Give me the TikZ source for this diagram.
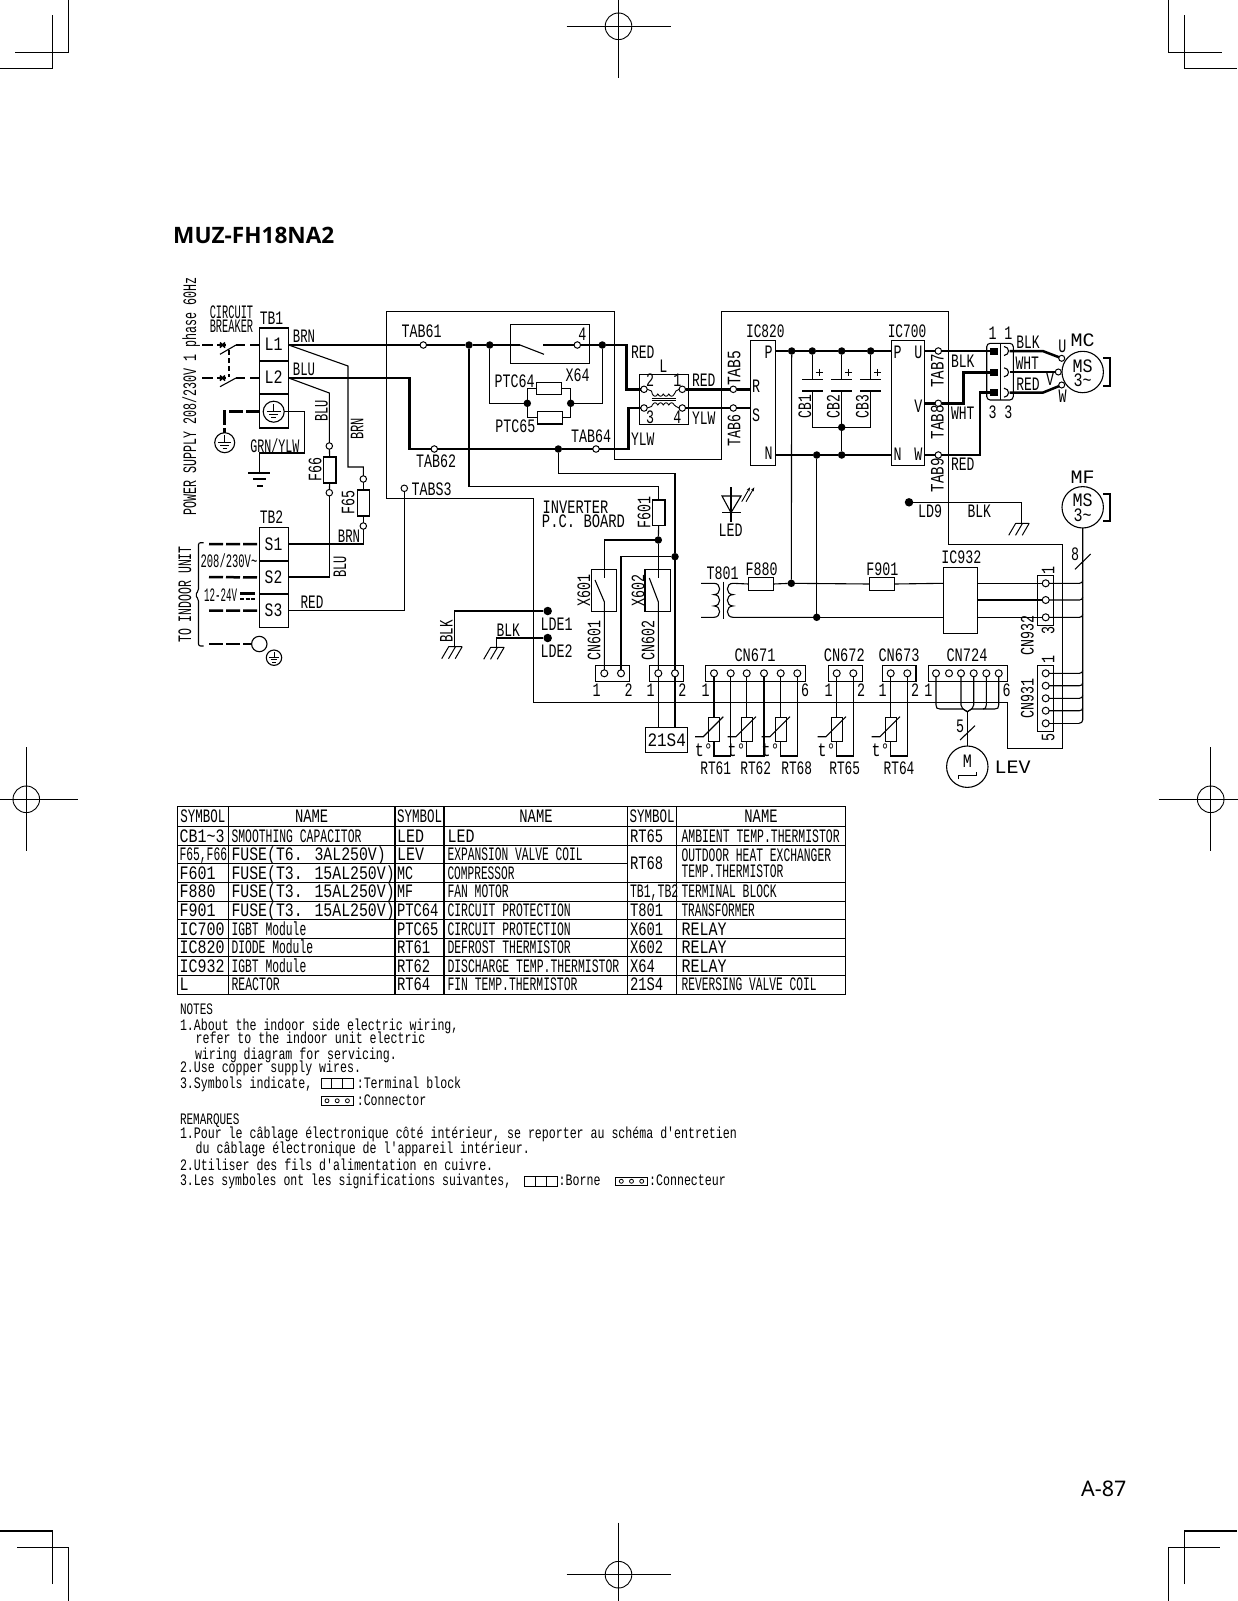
\documentclass[tikz,border=0pt]{standalone}
\usepackage{fontspec}
\usepackage{graphicx}
\usetikzlibrary{arrows.meta}
\newfontfamily\cadfont{Liberation Mono}
\newfontfamily\pagefont{Noto Sans}
\newfontfamily\titlefont{Open Sans}
\newcounter{lbl}
\tikzset{
 thin wire/.style={line width=1.1bp},
 thick wire/.style={line width=2.5bp},
 dash wire/.style={line width=2.5bp,dash pattern=on 14bp off 3bp},
 cadtext/.style={font=\fontsize{19bp}{19bp}\selectfont\cadfont,inner sep=0pt,outer sep=0pt,text height=12bp,text depth=0pt},
 notetext/.style={font=\fontsize{16bp}{16bp}\selectfont\cadfont,inner sep=0pt,outer sep=0pt,text height=10.5bp,text depth=0pt,anchor=west},
 boxn/.style={draw,line width=1.1bp,inner sep=0pt,outer sep=0pt},
 term/.style={circle,draw,line width=1bp,fill=white,minimum size=7bp,inner sep=0pt,outer sep=0pt},
 dotn/.style={circle,fill=black,minimum size=7.5bp,inner sep=0pt,outer sep=0pt},
 bigdot/.style={circle,fill=black,minimum size=8.5bp,inner sep=0pt,outer sep=0pt},
 motor/.style={circle,draw,line width=1.1bp,minimum size=41.4bp,inner sep=0pt,outer sep=0pt},
 earthc/.style={circle,draw,line width=1.1bp,inner sep=0pt,outer sep=0pt},
 pinb/.style={fill=black,minimum width=8.3bp,minimum height=7bp,inner sep=0pt,outer sep=0pt},
}
% label: [opts]{x}{y}{advance}{text}
\newcommand\lb[5][]{\pgfmathsetmacro\sx{#4/11.4}\stepcounter{lbl}\node[cadtext,#1] (lbl\thelbl) at (#2,#3) {\scalebox{\sx}[1]{#5}};}
\newcommand\nt[4]{\pgfmathsetmacro\sx{#3/9.6}\stepcounter{lbl}\node[notetext] (lbl\thelbl) at (#1,#2) {\scalebox{\sx}[1]{#4}};}
% box by corners
\newcommand\bx[5]{\pgfmathsetmacro\bw{#4-#2}\pgfmathsetmacro\bh{#5-#3}\pgfmathsetmacro\bcx{(#2+#4)/2}\pgfmathsetmacro\bcy{(#3+#5)/2}\node[boxn,minimum width=\bw bp,minimum height=\bh bp] (#1) at (\bcx,\bcy) {};}
\newcommand\tl{\char"7E\relax}
% earth symbol
\newcommand\earthsym[3]{\draw[line width=1bp] (#1,#2-#3*.75) -- (#1,#2) (#1-#3*.65,#2) -- (#1+#3*.65,#2) (#1-#3*.45,#2+#3*.28) -- (#1+#3*.45,#2+#3*.28) (#1-#3*.22,#2+#3*.56) -- (#1+#3*.22,#2+#3*.56);}
% hatch ground
\newcommand\hatchg[2]{\draw[line width=1bp] (#1-6,#2) -- (#1+7.5,#2) (#1-6,#2) -- ++(-7,12) (#1+.8,#2) -- ++(-7,12) (#1+7.5,#2) -- ++(-7,12);}
% thermistor
\newcommand\therm[3]{%
 \node[term] (#1a) at (#2,673.3) {};
 \node[term] (#1b) at (#3,673.3) {};
 \pgfmathsetmacro\tcl{#2}
 \node[boxn,minimum width=11bp,minimum height=24bp] (#1r) at (#2,729.3) {};
 \coordinate (#1c) at (#2,756);
 \draw[thin wire] (#1a) -- (#1r.north) (#1r.south) -- (#1c) -| (#1b);
 \draw[thin wire] (#2-19,736.7) -- (#2-10.7,736.7) -- (#2+9.3,716.7);
 \pgfmathsetmacro\tcx{#2-10.2}
 \lb{\tcx}{750.5}{9}{t°}
}
\begin{document}
\begin{tikzpicture}[x=1bp,y=-1bp,line cap=butt,line join=miter]
\useasboundingbox (0,0) rectangle (1237,1601);
\fill[white] (0,0) rectangle (1237,1601);
% ---- crop marks
\draw[thin wire]
 (68.3,0) -- (68.3,52.3) -- (15.3,52.3) (52.3,15.3) -- (52.3,68.3) -- (0,68.3)
 (1168.7,0) -- (1168.7,52.3) -- (1221.7,52.3) (1184.7,15.3) -- (1184.7,68.3) -- (1237,68.3)
 (1184.3,1584) -- (1184.3,1531) -- (1237,1531) (1168.3,1601) -- (1168.3,1547.3) -- (1220,1547.3)
 (52.7,1584) -- (52.7,1531) -- (0,1531) (68.7,1601) -- (68.7,1547.3) -- (17,1547.3);
\foreach \cx/\cy in {26.3/799.3,1210.7/799.3,618.5/26.3,618.5/1574.7}{
 \draw[line width=.9bp] (\cx,\cy) circle[radius=13.3bp];
 \draw[thin wire] (\cx,\cy-52) -- (\cx,\cy+52) (\cx-52,\cy) -- (\cx+52,\cy);
}
% ---- page text
\node[font=\fontsize{22.6bp}{23bp}\selectfont\titlefont\bfseries,inner sep=0pt,anchor=west] (title) at (173,235) {MUZ-FH18NA2};
\node[font=\fontsize{21.5bp}{22bp}\selectfont\pagefont,inner sep=0pt,anchor=west] (pageno) at (1081,1488.7) {A-87};
% ---- left labels
\lb[rotate=90]{190}{396}{7}{POWER SUPPLY 208/230V 1 phase 60Hz}
\lb{231.5}{312.5}{6.2}{CIRCUIT}
\lb{231.5}{326.5}{6.2}{BREAKER}
\lb{271.5}{318.5}{7.8}{TB1}
\lb{271.5}{517.5}{7.8}{TB2}
\lb{304}{336.5}{7.4}{BRN}
\lb{304}{369}{7.4}{BLU}
\lb{275}{446}{7}{GRN/YLW}
\lb[rotate=90]{321.7}{410.7}{7.2}{BLU}
\lb[rotate=90]{357.3}{429}{7.2}{BRN}
\lb[rotate=90]{315.3}{469}{8}{F66}
\lb[rotate=90]{348.3}{502}{8}{F65}
\lb{349}{536}{7.4}{BRN}
\lb[rotate=90]{340}{566.7}{7.2}{BLU}
\lb{312}{602.5}{7.6}{RED}
\lb[rotate=90]{185}{594.5}{6.9}{TO INDOOR UNIT}
\lb{229}{561.5}{6.3}{208/230V\tl}
\lb{220.5}{595}{5.5}{12-24V}
\lb{273.5}{344.5}{9}{L1}
\lb{273.5}{377.5}{9}{L2}
\lb{273.5}{544.3}{8.8}{S1}
\lb{273.5}{577.3}{8.8}{S2}
\lb{273.5}{610.7}{8.8}{S3}
% ---- inverter outline
\draw[thin wire] (386.7,311.7) -- (614.3,311.7) -- (614.3,459.3) -- (721.7,459.3) -- (721.7,311.7) -- (948.3,311.7) -- (948.3,544.3) -- (1062.7,544.3) -- (1062.7,748.3) -- (1007.7,748.3) -- (1007.7,702.3) -- (533.3,702.3) -- (533.3,498.3) -- (386.7,498.3) -- cycle;
% ---- terminal blocks
\bx{tbA}{259.5}{328}{288.7}{361}
\bx{tbB}{259.5}{361}{288.7}{394}
\bx{tbE}{259.5}{394}{288.7}{428}
\bx{tbS1}{259.5}{527.3}{288.7}{561}
\bx{tbS2}{259.5}{561}{288.7}{594}
\bx{tbS3}{259.5}{594}{288.7}{627.3}
\coordinate (l1) at (288.7,345);
\coordinate (l2) at (288.7,378);
\coordinate (s1w) at (288.7,544);
\coordinate (s2w) at (288.7,577);
\coordinate (s3w) at (288.7,610.7);
% earth
\node[earthc,minimum size=21bp] (e1) at (273.7,411.7) {};
\earthsym{273.7}{411.7}{10.5}
\node[earthc,minimum size=20bp] (e2) at (224.7,442.7) {};
\earthsym{224.7}{442.7}{10}
\node[earthc,minimum size=15.4bp] (e3) at (259.3,644) {};
\node[earthc,minimum size=15.4bp] (e4) at (274,657.7) {};
\earthsym{274}{657.7}{7.7}
\draw[thin wire] (e1.east) -- (304.7,411.7) -- (304.7,453) -- (259.5,453) -- (259.5,473);
\draw[thin wire] (248,473) -- (270,473) (253,479) -- (266,479) (257,486) -- (263,486);
\draw[dash wire] (259.5,411.7) -- (224.7,411.7) -- (e2);
% supply dashes and breaker
\draw[thick wire] (202,345) -- (213,345) (217,345) -- (226,345) (236,345) -- (245,345) (250,345) -- (259.5,345);
\draw[thick wire] (202,378) -- (213,378) (217,378) -- (226,378) (236,378) -- (245,378) (250,378) -- (259.5,378);
\draw[line width=1.6bp] (220,342.5) -- (225,347.5) (225,342.5) -- (220,347.5) (220,375.5) -- (225,380.5) (225,375.5) -- (220,380.5);
\draw[thin wire] (220,354.3) -- (236,345) (220,386.7) -- (236,378);
\draw[thin wire,dash pattern=on 5bp off 3bp] (229,350) -- (229,377);
\draw[dash wire] (209,544) -- (tbS1.west);
\draw[dash wire] (209,577) -- (tbS2.west);
\draw[dash wire] (209,610.7) -- (tbS3.west);
\draw[dash wire] (209,644) -- (e3);
\draw[thin wire,rounded corners=2bp] (203.5,542.7) -- (198.5,542.7) -- (198.5,591) -- (195,595) -- (198.5,599) -- (198.5,646) -- (203.5,646);
\draw[line width=3bp] (240,593.5) -- (255,593.5);
\draw[line width=2.4bp,dash pattern=on 4bp off 1.6bp] (240,599) -- (255,599);
% ---- fuses F65, F66
\node[term,minimum size=6.5bp] (f66t) at (329.3,446) {};
\bx{fu66}{323.3}{457}{336}{483}
\node[term,minimum size=6.5bp] (f66b) at (329.3,492.7) {};
\node[term,minimum size=6.5bp] (f65t) at (363.3,479) {};
\bx{fu65}{357.3}{490}{369.3}{516}
\node[term,minimum size=6.5bp] (f65b) at (363.3,526) {};
\draw[thin wire] (l1) -- (348,366) -- (348,467) -| (f65t);
\draw[thin wire] (f65t) -- (fu65.north) (fu65.south) -- (f65b);
\draw[thin wire] (f65b) |- (s1w);
\draw[thin wire] (l2) -- (329.3,393) -- (f66t);
\draw[thin wire] (f66t) -- (fu66.north) (fu66.south) -- (f66b);
\draw[thin wire] (f66b) |- (s2w);
% ---- terminals, dots on PCB
\node[term,minimum size=6.5bp] (tab61) at (423.3,345) {};
\node[term,minimum size=6.5bp] (tab62) at (434.3,449) {};
\node[term,minimum size=6.5bp] (tab64) at (596,449) {};
\node[term,minimum size=6.5bp] (tabs3) at (404.3,488.3) {};
\node[term,minimum size=6.5bp] (x64c) at (577.3,345) {};
\node[dotn] (d1) at (469,345) {};
\node[dotn] (d2) at (489.7,345) {};
\node[dotn] (d3) at (602.3,345) {};
\node[dotn] (d4) at (527.3,403.3) {};
\node[dotn] (d5) at (570.7,403.3) {};
\node[dotn] (d6) at (558.3,449) {};
\node[dotn] (d7) at (658.3,540) {};
\node[dotn] (d8) at (675,556.7) {};
\coordinate (x64a) at (520,345);
\coordinate (x64b) at (543.3,345);
\bx{x64}{510.7}{324.3}{589.3}{363.3}
\bx{ptc64}{536.7}{382.3}{561.7}{394.3}
\bx{ptc65}{537.7}{411.7}{562.7}{424}
% reactor
\bx{lbox}{639.3}{374.7}{688.3}{424.3}
\node[term,minimum size=6.5bp] (lt2) at (644,389.3) {};
\node[term,minimum size=6.5bp] (lt1) at (682.3,389.3) {};
\node[term,minimum size=6.5bp] (lb3) at (644,408) {};
\node[term,minimum size=6.5bp] (lb4) at (682.3,408) {};
\draw[line width=.9bp] (lt2.east) -- (651.5,391) -- (652.3,394)
 .. controls +(1.5,3) and +(-1.5,3) .. ++(5.5,0) .. controls +(1.5,3) and +(-1.5,3) .. ++(5.5,0)
 .. controls +(1.5,3) and +(-1.5,3) .. ++(5.5,0) .. controls +(1.5,3) and +(-1.5,3) .. ++(5.5,0) -- (676,391) -- (lt1.west);
\draw[line width=.9bp] (lb3.east) -- (651.5,406.5) -- (652.3,405)
 .. controls +(1.5,-3) and +(-1.5,-3) .. ++(5.5,0) .. controls +(1.5,-3) and +(-1.5,-3) .. ++(5.5,0)
 .. controls +(1.5,-3) and +(-1.5,-3) .. ++(5.5,0) .. controls +(1.5,-3) and +(-1.5,-3) .. ++(5.5,0) -- (676,406.5) -- (lb4.west);
\draw[line width=1bp] (651.5,398) -- (676,398) (651.5,400.5) -- (676,400.5);
% main thick wires
\draw[thick wire] (l1) -- (tab61);
\draw[thick wire] (tab61) -- (d1) -- (d2) -- (x64a);
\draw[thin wire] (x64a) -- (544,354.3);
\draw[thick wire] (x64b) -- (x64c);
\draw[thick wire] (x64c) -- (d3);
\draw[thick wire] (d3) -- (626.7,345) |- (lt2);
\draw[thick wire] (l2) -- (409.3,378) |- (tab62);
\draw[thick wire] (tab62) -- (d6) -- (tab64);
\draw[thick wire] (tab64) -- (628.3,449) |- (lb3);
\draw[thin wire] (d2) |- (d4);
\draw[thin wire] (d3) |- (d5);
\draw[thin wire] (d4) |- (ptc64.west);
\draw[thin wire] (d4) |- (ptc65.west);
\draw[thin wire] (d5) |- (ptc64.east);
\draw[thin wire] (d5) |- (ptc65.east);
% board wires
\bx{fu601}{652.3}{500}{665}{525.7}
\bx{bx601}{591.7}{569.3}{616.7}{611.7}
\bx{bx602}{645}{569.3}{670.7}{611.7}
\bx{cn601}{595.7}{665.7}{629.3}{681.7}
\bx{cn602}{649.3}{665.7}{683.3}{681.7}
\bx{s21}{645.7}{727.3}{687.7}{752.3}
\node[term] (c601a) at (604.3,673.3) {};
\node[term] (c601b) at (621,673.3) {};
\node[term] (c602a) at (658.3,673.3) {};
\node[term] (c602b) at (675,673.3) {};
\coordinate (k1t) at (604.3,578);
\coordinate (k1b) at (604.3,601.7);
\coordinate (k2t) at (658.3,578);
\coordinate (k2b) at (658.3,601.7);
\draw[thin wire] (d1) -- (469,486.7) -| (fu601.north);
\draw[thin wire] (fu601.south) -- (d7);
\draw[thin wire] (d7) -| (k1t);
\draw[thin wire] (595,580) -- (k1b) -- (c601a);
\draw[thin wire] (d7) -- (k2t);
\draw[thin wire] (649.3,578) -- (k2b) -- (c602a);
\draw[thin wire] (c602a) -- (c602a |- s21.north);
\draw[thin wire] (d6) -- (558.3,473.3) -| (d8);
\draw[thin wire] (d8) -- (c602b);
\draw[thin wire] (c602b) -- (c602b |- s21.north);
\draw[thin wire] (d8) -| (c601b);
\draw[thin wire] (tabs3) |- (s3w);
% LDE
\node[bigdot] (lde1) at (547.7,611) {};
\node[bigdot] (lde2) at (547.7,638) {};
\coordinate (gnd1) at (454.7,646.7);
\coordinate (gnd2) at (496.7,647.3);
\draw[thin wire] (lde1) -| (gnd1);
\draw[thin wire] (lde2) -| (gnd2);
\hatchg{454.7}{646.7}
\hatchg{496.7}{647.3}
% ---- power stage
\bx{ic820}{750.7}{340.7}{775.7}{465.3}
\bx{ic700}{891.7}{340.7}{924.3}{465.3}
\node[term,minimum size=6.5bp] (tab5) at (733.3,389.3) {};
\node[term,minimum size=6.5bp] (tab6) at (733.3,408) {};
\node[term,minimum size=6.5bp] (tab7) at (938.3,351) {};
\node[term,minimum size=6.5bp] (tab8) at (938.3,403.3) {};
\node[term,minimum size=6.5bp] (tab9) at (938.3,455) {};
\coordinate (ric) at (750.7,389.3);
\coordinate (sic) at (750.7,408);
\draw[thick wire] (lt1) -- (tab5);
\draw[thick wire] (tab5) -- (ric);
\draw[thick wire] (lb4) -- (tab6);
\draw[thick wire] (tab6) -- (sic);
\node[dotn] (p1) at (791.7,351) {};
\node[dotn] (p2) at (812.3,351) {};
\node[dotn] (p3) at (841.7,351) {};
\node[dotn] (p4) at (870.7,351) {};
\node[dotn] (n1) at (816.7,455) {};
\node[dotn] (n2) at (841.7,455) {};
\node[dotn] (cb0) at (841.7,427.3) {};
\coordinate (pa) at (775.7,351);
\coordinate (pb) at (891.7,351);
\coordinate (na) at (775.7,455);
\coordinate (nb) at (891.7,455);
\draw[thick wire] (pa) -- (p1) -- (p2) -- (p3) -- (p4) -- (pb);
\draw[thick wire] (na) -- (n1) -- (n2) -- (nb);
\draw[thin wire] (cb0) -- (n2);
% capacitors
\foreach \cn/\pn/\cc/\lw in {1/p2/812.3/10.3,2/p3/841.7/10.3,3/p4/870.7/10.3}{
 \coordinate (cap\cn t) at (\cc,379.3);
 \coordinate (cap\cn b) at (\cc,391);
 \draw[thin wire] (\pn) -- (cap\cn t);
 \draw[line width=1.2bp] (\cc-\lw,379.3) -- (\cc+\lw,379.3) (\cc-\lw,391) -- (\cc+\lw,391);
 \draw[line width=1bp] (\cc+3.2,372.3) -- (\cc+10.2,372.3) (\cc+6.7,368.8) -- (\cc+6.7,375.8);
}
\draw[thin wire] (cap1b) -- (812.3,427.3) -- (cb0);
\draw[thin wire] (cap3b) -- (870.7,427.3) -- (cb0);
\draw[thin wire] (cap2b) -- (cb0);
% connector
\draw[line width=1.1bp,rounded corners=3.5bp] (986.7,343.3) rectangle (1013.3,400);
\draw[line width=1.1bp] (1000.7,343.3) -- (1000.7,400);
\node[pinb] (pin1) at (994.2,351) {};
\node[pinb] (pin2) at (994.2,372.3) {};
\node[pinb] (pin3) at (994.2,392.7) {};
\foreach \yy in {351,372.3,392.7}{
 \draw[line width=1.1bp] (1004,\yy-4.5) .. controls (1010,\yy-4) and (1010,\yy+4) .. (1004,\yy+4.5);
}
\draw[thick wire] (924.3,351) -- (tab7);
\draw[thick wire] (tab7) -- (pin1);
\draw[thick wire] (924.3,403.3) -- (tab8);
\draw[thick wire] (tab8) -- (963.3,403.3) |- (pin2);
\draw[thick wire] (924.3,455) -- (tab9);
\draw[thick wire] (tab9) -- (980,455) |- (pin3);
% motors
\node[motor] (mc) at (1082.7,372) {};
\node[motor] (mf) at (1082.7,507.3) {};
\node[motor] (lev) at (967.3,766.7) {};
\node[term,minimum size=6bp] (mu) at (1061.7,358.3) {};
\node[term,minimum size=6bp] (mv) at (1058.3,372) {};
\node[term,minimum size=6bp] (mw) at (1061.7,385) {};
\draw[thick wire] (1009.5,351) -- (1042.7,351) -- (mu);
\draw[thick wire] (1009.5,372) -- (mv);
\draw[thick wire] (1009.5,392.7) -- (1042.7,392.7) -- (mw);
\draw[line width=1.8bp] (1103.3,358.3) -- (1110,358.3) -- (1110,386) -- (1103.3,386);
\draw[line width=1.8bp] (1103.3,494) -- (1110,494) -- (1110,520.7) -- (1103.3,520.7);
% LD9, LED
\node[bigdot] (ld9) at (909,502.3) {};
\coordinate (gnd3) at (1021.7,523.3);
\draw[thin wire] (ld9) -| (gnd3);
\hatchg{1021.7}{523.3}
\draw[thin wire] (722,496) -- (741,496) -- (731,512.7) -- cycle;
\draw[thin wire] (731,487.3) -- (731,521.7) (722,512.7) -- (741,512.7);
\draw[line width=.9bp,-{Stealth[length=4bp,width=3bp]}] (741.7,501.7) -- (750,487.3);
\draw[line width=.9bp,-{Stealth[length=4bp,width=3bp]}] (746,501.7) -- (754.3,487.3);
% transformer line
\bx{fu880}{748.3}{577.3}{773.3}{590.7}
\bx{fu901}{869.3}{577.3}{894.7}{590.7}
\bx{ic932}{943.3}{567.3}{977.7}{633.3}
\node[dotn] (n3) at (791.3,583.3) {};
\node[dotn] (n4) at (816.7,617.3) {};
\draw[thin wire] (p1) -- (n3);
\draw[thin wire] (n1) -- (n4);
\draw[thin wire] (701,583.3) -- (714,583.3)
 .. controls +(7.5,0) and +(7.5,0) .. ++(0,11.33)
 .. controls +(7.5,0) and +(7.5,0) .. ++(0,11.33)
 .. controls +(7.5,0) and +(7.5,0) .. ++(0,11.34) -- (701,617.3);
\draw[thin wire] (723.3,581.5) -- (723.3,619);
\draw[thin wire] (fu880.west) -- (733,583.3)
 .. controls +(-7.5,0) and +(-7.5,0) .. ++(0,11.33)
 .. controls +(-7.5,0) and +(-7.5,0) .. ++(0,11.33)
 .. controls +(-7.5,0) and +(-7.5,0) .. ++(0,11.34) -- (n4);
\draw[thin wire] (fu880.east) -- (n3);
\draw[thin wire] (n3) -- (fu901.west);
\draw[thin wire] (fu901.east) -- (943.3,583.3);
\draw[thin wire] (n4) -- (943.3,617.3);
% CN932, CN931 and the motor bus
\bx{cn932}{1037.3}{575.7}{1053.7}{625.7}
\bx{cn931}{1037.3}{665.3}{1053.7}{731.3}
\draw[thin wire] (mf) -- (1082.7,720) .. controls (1082.7,722) and (1081,723.3) .. (1079,723.3);
\foreach \nm/\yy in {a/583.3,b/600,c/617.3}{
 \node[term] (u\nm) at (1045.7,\yy) {};
 \coordinate (uic\nm) at (977.7,\yy);
 \draw[thin wire] (uic\nm) -- (u\nm);
 \draw[thin wire] (u\nm) -- (1079.5,\yy) .. controls (1081.5,\yy) and (1082.7,\yy-1.2) .. (1082.7,\yy-3);
}
\foreach \nm/\yy in {a/673.3,b/685.7,c/698.3,d/710.7,e/723.3}{
 \node[term] (v\nm) at (1045.7,\yy) {};
}
\foreach \nm/\yy in {a/673.3,b/685.7,c/698.3,d/710.7}{
 \draw[thin wire] (v\nm) -- (1079.5,\yy) .. controls (1081.5,\yy) and (1082.7,\yy-1.2) .. (1082.7,\yy-3);
}
\draw[thin wire] (ve) -- (1079,723.3);
\draw[thin wire] (1075,569.3) -- (1090.7,554);
% CN671..CN673
\bx{cn671}{705.3}{665.7}{805.7}{681.7}
\bx{cn672}{828.7}{665.7}{862.3}{681.7}
\bx{cn673}{882.3}{665.7}{916}{681.7}
\bx{cn724}{928.3}{665.7}{1007.3}{681.7}
\therm{rtA}{714}{730.7}
\therm{rtB}{746.7}{764}
\therm{rtC}{780.7}{797.3}
\therm{rtD}{836.7}{853.3}
\therm{rtE}{890.7}{907.3}
% CN724
\foreach \nm/\xx in {a/936,b/949,c/961,d/973.7,e/986.3,f/998.7}{
 \node[term] (w\nm) at (\xx,673.3) {};
}
\coordinate (join) at (967.3,711.7);
\draw[thin wire] (wa) -- (936,705) .. controls (936,708) and (937,709) .. (940,709) -- (963,709) -- (join);
\draw[thin wire] (wf) -- (998.7,705) .. controls (998.7,708) and (997.7,709) .. (994.7,709) -- (971.6,709) -- (join);
\draw[thin wire] (wc) -- (961,705) .. controls (961,708) and (963,709) .. (join);
\draw[thin wire] (wd) -- (973.7,705) .. controls (973.7,708) and (971.6,709) .. (join);
\draw[thin wire] (we) -- (986.3,705) .. controls (986.3,708) and (985,709) .. (983,709);
\draw[thin wire] (join) -- (lev);
\draw[thin wire] (960,740) -- (975,725.7);
\draw[thin wire] (958.3,779.3) -- (958.3,775.7) -- (976.7,775.7) -- (976.7,771.7);
% ---- diagram labels
\lb{421.7}{331}{8}{TAB61}
\lb{436}{461}{8}{TAB62}
\lb{591}{436}{8}{TAB64}
\lb{431.7}{489}{8}{TABS3}
\lb{582.3}{334}{8}{4}
\lb{514.7}{381}{8}{PTC64}
\lb{577.7}{375.3}{8}{X64}
\lb{515.3}{426.3}{8}{PTC65}
\lb{575.5}{507}{8.2}{INVERTER}
\lb{583.5}{521}{8.3}{P.C. BOARD}
\lb[rotate=90]{644.3}{512.7}{8}{F601}
\lb[rotate=90]{584}{590.7}{8}{X601}
\lb[rotate=90]{594.3}{640.7}{8}{CN601}
\lb[rotate=90]{638.3}{590.7}{8}{X602}
\lb[rotate=90]{648.3}{640.7}{8}{CN602}
\lb{596.7}{690.7}{8}{1}
\lb{628.7}{690.7}{8}{2}
\lb{650.7}{690.7}{8}{1}
\lb{682.3}{690.7}{8}{2}
\lb{666.7}{740}{9.6}{21S4}
\lb{556.7}{624.3}{8}{LDE1}
\lb{556.7}{651}{8}{LDE2}
\lb[rotate=90]{446.7}{631.7}{7.5}{BLK}
\lb{508.3}{630.3}{7.8}{BLK}
\lb{642.7}{352}{7.8}{RED}
\lb{642.7}{439.3}{7.8}{YLW}
\lb{663.3}{366.7}{8}{L}
\lb{650}{380.7}{8}{2}
\lb{677.3}{380.7}{8}{1}
\lb{650}{417.7}{8}{3}
\lb{677.3}{417.7}{8}{4}
\lb{703.7}{380.7}{7.8}{RED}
\lb{703.7}{418}{7.8}{YLW}
\lb[rotate=90]{734.3}{368.3}{8.8}{TAB5}
\lb[rotate=90]{734.3}{430}{8}{TAB6}
\lb{765.3}{331.3}{7.7}{IC820}
\lb{907}{331.3}{7.7}{IC700}
\lb{768.7}{352}{8}{P}
\lb{756}{386.7}{8}{R}
\lb{756}{415.3}{8}{S}
\lb{768.7}{453.3}{8}{N}
\lb{897.7}{352}{8}{P}
\lb{918.3}{352}{8}{U}
\lb{918.3}{406.7}{8}{V}
\lb{897.7}{454}{8}{N}
\lb{918.3}{454}{8}{W}
\lb[rotate=90]{805}{406.7}{7.8}{CB1}
\lb[rotate=90]{833.7}{406.7}{7.8}{CB2}
\lb[rotate=90]{862.7}{406.7}{7.8}{CB3}
\lb[rotate=90]{937.7}{370.7}{8.5}{TAB7}
\lb[rotate=90]{937.7}{422.3}{8.5}{TAB8}
\lb[rotate=90]{937.7}{475}{8.5}{TAB9}
\lb{962.7}{361}{7.8}{BLK}
\lb{962.7}{413.3}{7.8}{WHT}
\lb{962.7}{464}{7.8}{RED}
\lb{992.7}{333.3}{8}{1}
\lb{1008.3}{333.3}{8}{1}
\lb{992.7}{412.7}{8}{3}
\lb{1008.3}{412.7}{8}{3}
\lb{1028}{342.3}{7.8}{BLK}
\lb{1027.3}{363.3}{7.8}{WHT}
\lb{1028}{384}{7.8}{RED}
\lb{1062.3}{346.7}{8}{U}
\lb{1050}{379.3}{8}{V}
\lb{1062.7}{396.7}{8}{W}
\lb{1082.7}{340}{12}{MC}
\lb{1082.7}{477.3}{12}{MF}
\lb{1082.7}{366}{10}{MS}
\lb{1082.7}{380}{9}{3\tl}
\lb{1082.7}{500.7}{10}{MS}
\lb{1082.7}{515.3}{9}{3\tl}
\lb{930}{511.7}{8}{LD9}
\lb{979.3}{511.7}{7.8}{BLK}
\lb{730.7}{530.7}{8}{LED}
\lb{722.7}{573.3}{8}{T801}
\lb{761.7}{569.3}{8}{F880}
\lb{882.3}{569.3}{8}{F901}
\lb{961.3}{557.7}{8}{IC932}
\lb{1075}{554.3}{8}{8}
\lb[rotate=90]{1048.3}{570}{8}{1}
\lb[rotate=90]{1048.3}{630.7}{8}{3}
\lb[rotate=90]{1027.7}{635.7}{8}{CN932}
\lb[rotate=90]{1048.3}{659}{8}{1}
\lb[rotate=90]{1048.3}{737.3}{8}{5}
\lb[rotate=90]{1027.7}{698.3}{8}{CN931}
\lb{755}{655}{8.2}{CN671}
\lb{844.3}{655}{8.2}{CN672}
\lb{899}{655}{8.2}{CN673}
\lb{967}{655}{8.2}{CN724}
\lb{705.7}{690.7}{8}{1}
\lb{805}{690.7}{8}{6}
\lb{828.7}{690.7}{8}{1}
\lb{861}{690.7}{8}{2}
\lb{882.7}{690.7}{8}{1}
\lb{915}{690.7}{8}{2}
\lb{928.3}{690.7}{8}{1}
\lb{1006.7}{690.7}{8}{6}
\lb{715.7}{768.3}{7.7}{RT61}
\lb{755.7}{768.3}{7.7}{RT62}
\lb{796.7}{768.3}{7.7}{RT68}
\lb{844.7}{768.3}{7.7}{RT65}
\lb{899}{768.3}{7.7}{RT64}
\lb{960}{726.7}{8}{5}
\lb{967.3}{761.7}{9}{M}
\lb{1012.7}{767}{12}{LEV}
% ---- table
\draw[thin wire] (177.3,806.7) rectangle (845.7,994.1);
\foreach \nn in {0,1,3,4,5,6,7,8}{
 \draw[thin wire] (177.3,826.7+18.6*\nn) -- (845.7,826.7+18.6*\nn);
}
\draw[thin wire] (177.3,826.7+18.6*2) -- (627.7,826.7+18.6*2);
\foreach \xx in {228.3,395,444,627.7,676.7}{
 \draw[thin wire] (\xx,806.7) -- (\xx,994.1);
}
\lb{202.8}{816}{7.5}{SYMBOL}
\lb{311.6}{816}{8.3}{NAME}
\lb{419.5}{816}{7.5}{SYMBOL}
\lb{536}{816}{8.3}{NAME}
\lb{652.2}{816}{7.5}{SYMBOL}
\lb{761}{816}{8.3}{NAME}
\foreach \yy/\ta/\aa/\tb/\ab/\tc/\ac/\td/\ad in {
 836/CB1\tl3/9/SMOOTHING CAPACITOR/6.84/LED/9/LED/9,
 854.6/{F65,F66}/6.8/FUSE(T6. 3AL250V)/8.9/LEV/9/EXPANSION VALVE COIL/6.75,
 873.2/F601/9/FUSE(T3. 15AL250V)/8.9/MC/8/COMPRESSOR/6.7,
 891.8/F880/9/FUSE(T3. 15AL250V)/8.9/MF/8/FAN MOTOR/6.8,
 910.4/F901/9/FUSE(T3. 15AL250V)/8.9/PTC64/8.3/CIRCUIT PROTECTION/6.85,
 929/IC700/9/IGBT Module/6.8/PTC65/8.3/CIRCUIT PROTECTION/6.85,
 947.6/IC820/9/DIODE Module/6.8/RT61/8.3/DEFROST THERMISTOR/6.85,
 966.2/IC932/9/IGBT Module/6.8/RT62/8.3/DISCHARGE TEMP.THERMISTOR/6.87,
 984.8/L/9/REACTOR/6.9/RT64/8.3/FIN TEMP.THERMISTOR/6.84}{
 \lb[anchor=west]{179.5}{\yy}{\aa}{\ta}
 \lb[anchor=west]{231.5}{\yy}{\ab}{\tb}
 \lb[anchor=west]{397}{\yy}{\ac}{\tc}
 \lb[anchor=west]{447.5}{\yy}{\ad}{\td}
}
\foreach \yy/\te/\ae/\tf/\af in {
 836/RT65/8.3/AMBIENT TEMP.THERMISTOR/6.88,
 891.8/{TB1,TB2}/6.9/TERMINAL BLOCK/6.8,
 910.4/T801/8.3/TRANSFORMER/6.67,
 929/X601/8.3/RELAY/9,
 947.6/X602/8.3/RELAY/9,
 966.2/X64/8.3/RELAY/9,
 984.8/21S4/8.3/REVERSING VALVE COIL/6.75}{
 \lb[anchor=west]{630}{\yy}{\ae}{\te}
 \lb[anchor=west]{681.5}{\yy}{\af}{\tf}
}
\lb[anchor=west]{630}{863.9}{8.3}{RT68}
\lb[anchor=west]{681.5}{855}{6.8}{OUTDOOR HEAT EXCHANGER}
\lb[anchor=west]{681.5}{871}{6.8}{TEMP.THERMISTOR}
% ---- notes
\nt{180}{1009.3}{6.6}{NOTES}
\nt{180}{1025}{6.96}{1.About the indoor side electric wiring,}
\nt{195.7}{1038.3}{6.96}{refer to the indoor unit electric}
\nt{195}{1054}{6.96}{wiring diagram for servicing.}
\nt{180}{1067.7}{6.96}{2.Use copper supply wires.}
\nt{180}{1083.3}{6.96}{3.Symbols indicate,}
\nt{356.8}{1083.3}{6.96}{:Terminal block}
\nt{356.8}{1100}{6.96}{:Connector}
\nt{180}{1119.3}{6.6}{REMARQUES}
\nt{180}{1133.3}{6.96}{1.Pour le câblage électronique côté intérieur, se reporter au schéma d'entretien}
\nt{195.7}{1148.3}{6.96}{du câblage électronique de l'appareil intérieur.}
\nt{180}{1165}{6.96}{2.Utiliser des fils d'alimentation en cuivre.}
\nt{180}{1180.7}{6.9}{3.Les symboles ont les significations suivantes,}
\nt{558.7}{1180.7}{6.96}{:Borne}
\nt{649.2}{1180.7}{6.96}{:Connecteur}
\foreach \xa/\ya in {321/1078.3,524.7/1176}{
 \draw[line width=1bp] (\xa,\ya) rectangle (\xa+32.4,\ya+10) (\xa+10.8,\ya) -- (\xa+10.8,\ya+10) (\xa+21.6,\ya) -- (\xa+21.6,\ya+10);
}
\foreach \xa/\ya in {321/1096.5,615.3/1177}{
 \draw[line width=1bp] (\xa,\ya) rectangle (\xa+32.4,\ya+8.5);
 \draw[line width=.8bp] (\xa+6,\ya+4.25) circle[radius=2bp] (\xa+16.2,\ya+4.25) circle[radius=2bp] (\xa+26.4,\ya+4.25) circle[radius=2bp];
}
\end{tikzpicture}
\end{document}
